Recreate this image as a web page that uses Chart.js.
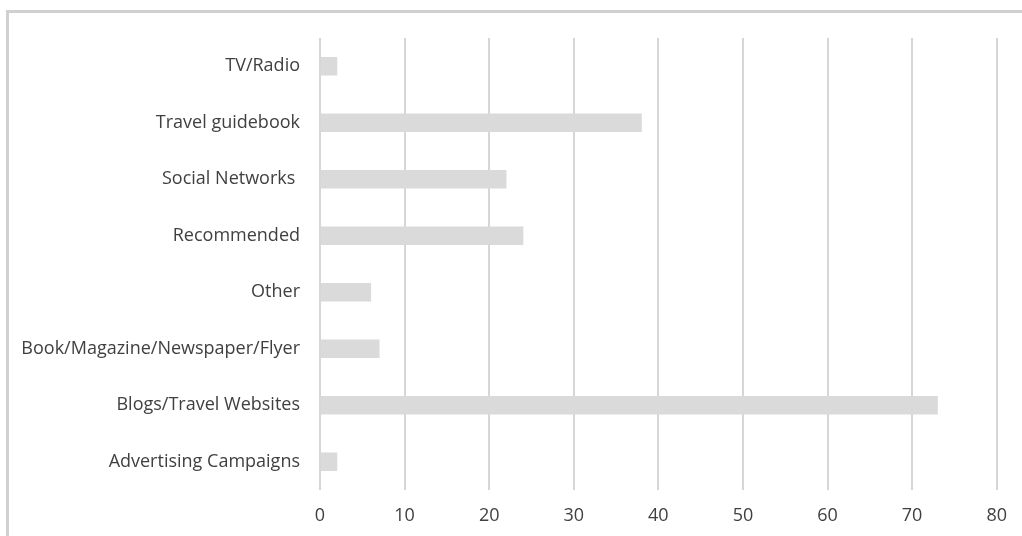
<!DOCTYPE html>
<html>
<head>
<meta charset="utf-8">
<script src="https://cdn.jsdelivr.net/npm/chart.js@4/dist/chart.umd.min.js"></script>
<style>
  html, body { margin: 0; padding: 0; background: #ffffff; overflow: hidden; }
  #frame { position: absolute; left: 6px; top: 10px; width: 1100px; height: 600px;
           border-top: 3px solid #d0d0d0; border-left: 3px solid #d0d0d0; }
  #wrap { position: absolute; left: 0; top: 0; width: 1022px; height: 536px; }
</style>
</head>
<body>
<div id="frame"></div>
<div id="wrap"><canvas id="c" width="1022" height="536"></canvas></div>
<script>
const categories = [
  "TV/Radio",
  "Travel guidebook",
  "Social Networks ",
  "Recommended",
  "Other",
  "Book/Magazine/Newspaper/Flyer",
  "Blogs/Travel Websites",
  "Advertising Campaigns"
];
const seriesValues = [2, 38, 22, 24, 6, 7, 73, 2];
const xTickValues = [0, 10, 20, 30, 40, 50, 60, 70, 80];

const FONT = "'Open Sans', 'Noto Sans', sans-serif";

new Chart(document.getElementById('c'), {
  type: 'bar',
  data: {
    labels: categories,
    datasets: [{
      data: seriesValues,
      backgroundColor: '#dadada',
      borderWidth: 0,
      barThickness: 18
    }]
  },
  options: {
    indexAxis: 'y',
    responsive: false,
    animation: false,
    devicePixelRatio: 1,
    layout: { padding: { top: 38, right: 23, left: 0, bottom: 0 } },
    plugins: { legend: { display: false }, tooltip: { enabled: false }, title: { display: false } },
    scales: {
      x: {
        min: 0, max: 80,
        afterBuildTicks: (axis) => { axis.ticks = xTickValues.map(v => ({ value: v })); },
        grid: { color: '#d6d6d6', lineWidth: 2, drawTicks: false },
        border: { display: false },
        ticks: { color: '#404040', font: { family: FONT, size: 18 }, padding: 15 },
        afterFit: (axis) => { axis.height = 46; }
      },
      y: {
        grid: { display: false, drawTicks: false },
        border: { display: false },
        ticks: { color: '#404040', font: { family: FONT, size: 18 }, padding: 20 },
        afterFit: (axis) => { axis.width = 320; }
      }
    }
  }
});
</script>
</body>
</html>
